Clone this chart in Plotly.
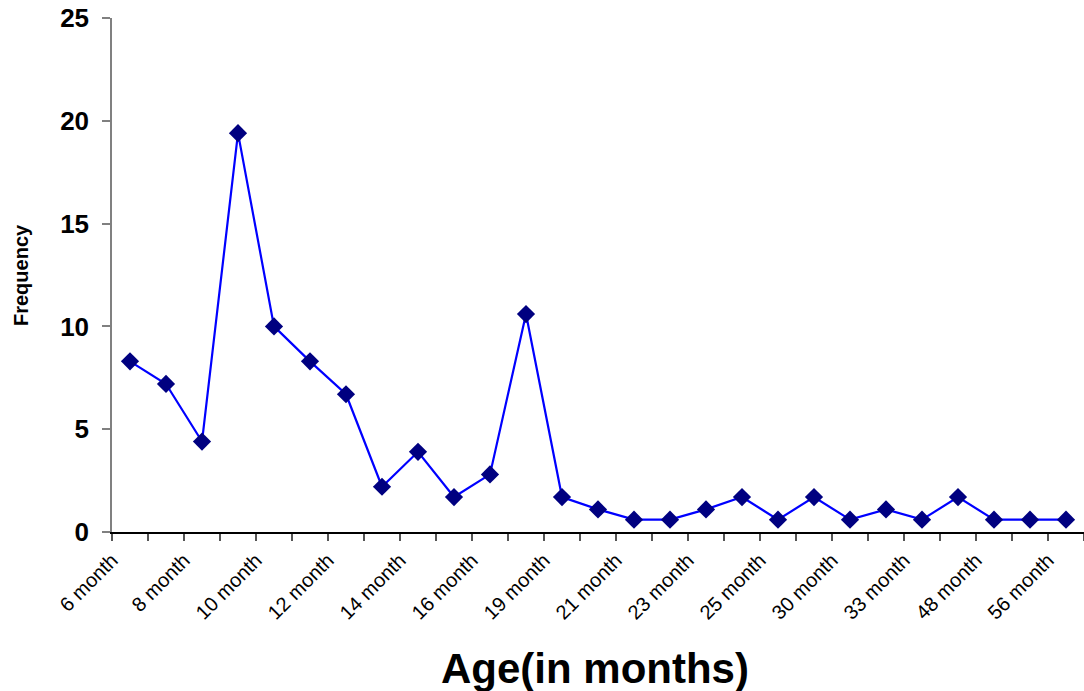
import plotly.graph_objects as go

categories = ["6 month", "7 month", "8 month", "9 month", "10 month", "11 month", "12 month",
              "13 month", "14 month", "15 month", "16 month", "18 month", "19 month", "20 month",
              "21 month", "22 month", "23 month", "24 month", "25 month", "27 month", "30 month",
              "32 month", "33 month", "36 month", "48 month", "50 month", "56 month"]
frequency = [8.3, 7.2, 4.4, 19.4, 10.0, 8.3, 6.7, 2.2, 3.9, 1.7, 2.8, 10.6, 1.7, 1.1,
             0.6, 0.6, 1.1, 1.7, 0.6, 1.7, 0.6, 1.1, 0.6, 1.7, 0.6, 0.6, 0.6]
tick_labels = ["6 month", "8 month", "10 month", "12 month", "14 month", "16 month", "19 month",
               "21 month", "23 month", "25 month", "30 month", "33 month", "48 month", "56 month"]

idx = list(range(len(categories)))
label_pos = [2 * k - 0.5 for k in range(len(tick_labels))]

FONT = "Liberation Sans, Arial, sans-serif"

fig = go.Figure()
fig.add_trace(go.Scatter(
    x=idx, y=frequency, mode="lines+markers",
    line=dict(color="#0000FF", width=2.2),
    marker=dict(symbol="diamond", size=14, color="#000080"),
    text=categories, hoverinfo="text+y", showlegend=False,
    cliponaxis=False,
))

fig.update_layout(
    width=1084, height=691,
    margin=dict(l=112, r=0, t=18, b=159, autoexpand=False),
    paper_bgcolor="white", plot_bgcolor="white",
    font=dict(family=FONT, color="black"),
    xaxis=dict(
        range=[-0.5, 26.5], showgrid=False, zeroline=False, automargin=False,
        showline=True, linecolor="black", linewidth=1.5,
        tickmode="array", tickvals=label_pos, ticktext=tick_labels,
        tickangle=-45, ticks="outside", ticklen=7, tickcolor="#555555", tickwidth=1.5,
        tickfont=dict(size=20, family=FONT, color="black"),
        minor=dict(tick0=-0.5, dtick=1, ticks="outside", ticklen=7, tickcolor="#555555", tickwidth=1.5),
    ),
    yaxis=dict(
        range=[0, 25], dtick=5, showgrid=False, zeroline=False, automargin=False,
        showline=True, linecolor="#808080", linewidth=1.5,
        ticks="outside", ticklen=8, tickcolor="#808080", tickwidth=1.5,
        ticklabelstandoff=8, ticklabeloverflow="allow",
        tickfont=dict(size=26, family=FONT, color="black", weight="bold"),
    ),
    annotations=[
        dict(text="<b>Frequency</b>", xref="paper", yref="paper", x=-0.0936, y=0.5,
             xanchor="center", yanchor="middle", textangle=-90, showarrow=False,
             font=dict(size=20, family=FONT, color="black")),
        dict(text="<b>Age(in months)</b>", xref="paper", yref="paper", x=0.497, y=0,
             xanchor="center", yanchor="middle", showarrow=False, yshift=-136,
             font=dict(size=42, family=FONT, color="black")),
    ],
)

fig.write_html(
    "out.html",
    config={"displayModeBar": False},
    post_script="document.body.style.margin='0';document.body.style.overflow='hidden';",
)
